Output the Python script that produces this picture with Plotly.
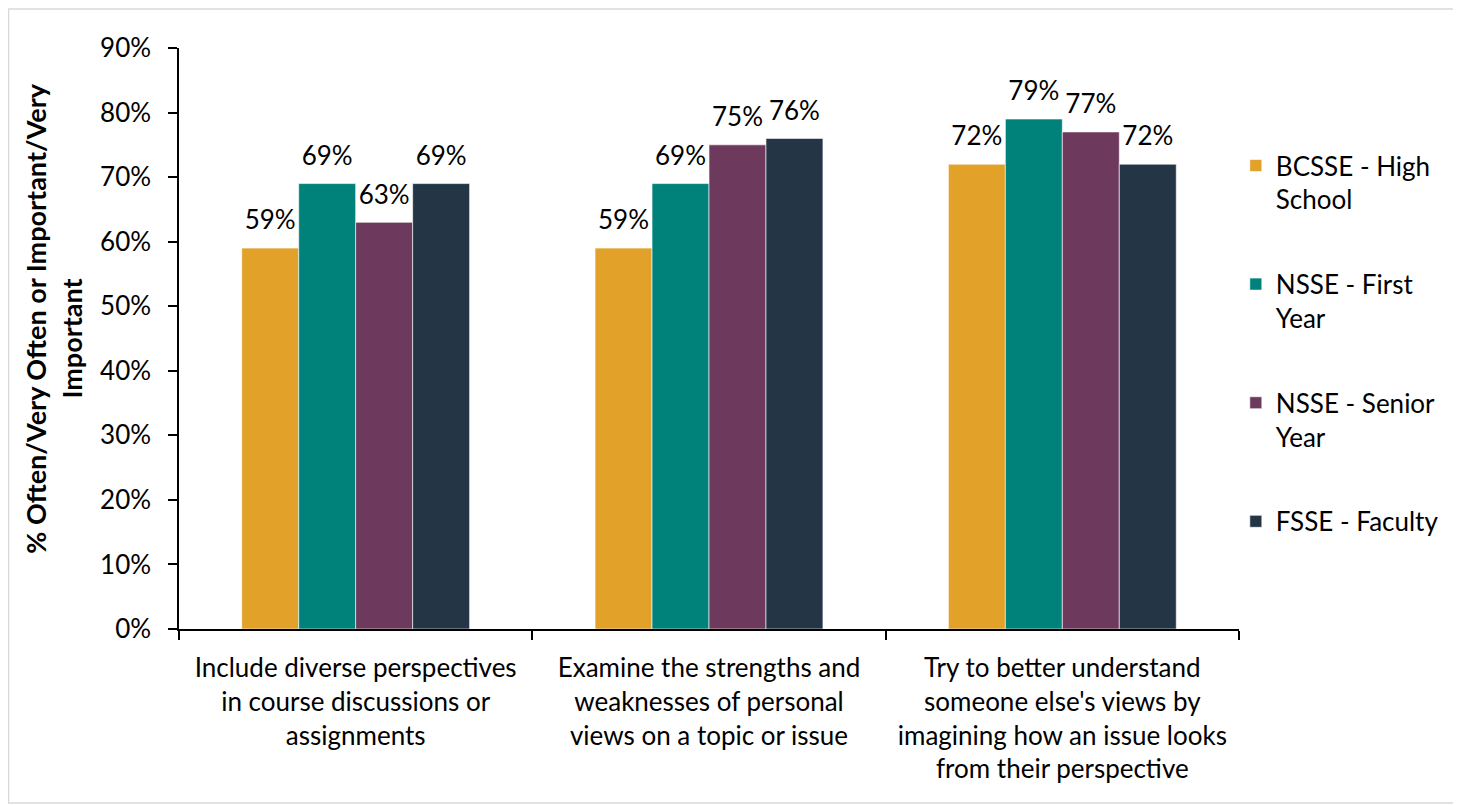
import plotly.graph_objects as go

categories = [
    "Include diverse perspectives<br>in course discussions or<br>assignments",
    "Examine the strengths and<br>weaknesses of personal<br>views on a topic or issue",
    "Try to better understand<br>someone else's views by<br>imagining how an issue looks<br>from their perspective",
]
series_names = ["BCSSE - High<br>School", "NSSE - First<br>Year", "NSSE - Senior<br>Year", "FSSE - Faculty"]
bcsse_high_school = [59, 59, 72]
nsse_first_year = [69, 69, 79]
nsse_senior_year = [63, 75, 77]
fsse_faculty = [69, 76, 72]
series_values = [bcsse_high_school, nsse_first_year, nsse_senior_year, fsse_faculty]
colors = ["#E2A129", "#00827B", "#6D3A5D", "#243646"]
y_ticks = list(range(0, 91, 10))

FONT = "Lato"
FS = 26
GAP = 0.355
# page body adds an 8px offset; plot area spans x 179..1239, y 48..629 on screen
OFF = 8
PX0, PX1, PY0, PY1 = 179 - OFF, 1239 - OFF, 48 - OFF, 629 - OFF
W, H = 1461 - OFF, 805 - OFF
pw, ph = PX1 - PX0, PY1 - PY0

fig = go.Figure()
for i, (name, vals, col) in enumerate(zip(series_names, series_values, colors)):
    fig.add_trace(go.Bar(
        x=categories, y=vals, name=name,
        marker=dict(color=col, line=dict(color="rgba(255,255,255,0.6)", width=1)),
        offsetgroup=str(i), legendgroup=f"g{i}", hoverinfo="x+y",
    ))
# data labels, grouped the same way as the bars
for i, vals in enumerate(series_values):
    fig.add_trace(go.Scatter(
        x=categories, y=vals, mode="markers+text", orientation="v",
        text=[f"{v}%" for v in vals], textposition="top center",
        textfont=dict(family=FONT, size=FS, color="#000000"),
        marker=dict(size=18, opacity=0, color="white"),
        offsetgroup=str(i), showlegend=False, hoverinfo="skip", cliponaxis=False,
    ))

fig.update_layout(
    width=W, height=H,
    margin=dict(l=PX0, r=W - PX1, t=PY0, b=H - PY1, pad=0),
    paper_bgcolor="white", plot_bgcolor="white",
    barmode="group", bargap=GAP, bargroupgap=0,
    scattermode="group", scattergap=GAP,
    font=dict(family=FONT, size=FS, color="#000000"),
    showlegend=True,
    legend=dict(
        x=0.997, xanchor="left", y=0.838, yanchor="top",
        font=dict(family=FONT, size=FS, color="#000000"),
        tracegroupgap=48, valign="top", itemwidth=30,
        bgcolor="rgba(0,0,0,0)",
    ),
    xaxis=dict(
        showline=True, linecolor="#000000", linewidth=1.5,
        ticks="outside", tickson="boundaries", ticklen=9, tickcolor="#000000", tickwidth=1.5,
        tickfont=dict(family=FONT, size=FS, color="#000000"),
        ticklabelstandoff=15,
        showgrid=False,
    ),
    yaxis=dict(
        range=[0, 90], tickvals=y_ticks, ticktext=[f"{t}%" for t in y_ticks],
        showline=True, linecolor="#000000", linewidth=1.5,
        ticks="outside", ticklen=9, tickcolor="#000000", tickwidth=1.5,
        tickfont=dict(family=FONT, size=FS, color="#000000"),
        ticklabelstandoff=12,
        showgrid=False, zeroline=False,
        title=dict(text="<b>" + "\u00a0" * 6 + "% Often/Very Often or Important/Very<br>Important</b>",
                   font=dict(family=FONT, size=27, color="#000000"), standoff=10),
    ),
    shapes=[dict(type="rect", xref="paper", yref="paper",
                 x0=(8.5 - 179) / pw, x1=(1457 - 179) / pw,
                 y0=(629 - 803) / ph, y1=(629 - 9) / ph,
                 line=dict(color="#D9D9D9", width=1.5), fillcolor="rgba(0,0,0,0)", layer="below")],
)

fig.write_html("out.html")
